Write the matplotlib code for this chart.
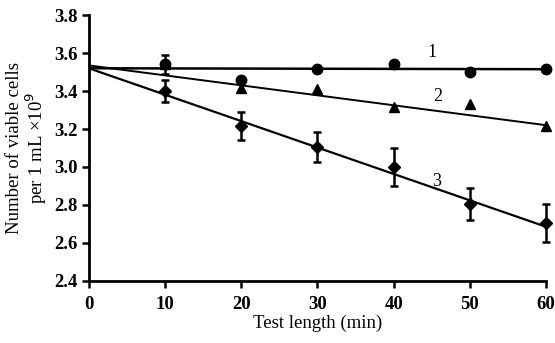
import matplotlib
matplotlib.use("Agg")
import matplotlib.pyplot as plt
import numpy as np

plt.rcParams['font.family'] = ['Liberation Serif', 'DejaVu Serif']

x = [10, 20, 30, 40, 50, 60]
s1 = [3.54, 3.46, 3.515, 3.545, 3.50, 3.515]
s1_err = [0.05, 0, 0, 0, 0, 0]
s2 = [3.54, 3.415, 3.41, 3.315, 3.33, 3.215]
s3 = [3.40, 3.215, 3.105, 3.00, 2.805, 2.705]
s3_err = [0.06, 0.075, 0.077, 0.10, 0.085, 0.10]

fit_x = [0, 60]
fit1 = [3.52, 3.515]
fit2 = [3.535, 3.22]
fit3 = [3.52, 2.685]

fig = plt.figure(figsize=(5.55, 3.43), dpi=100)
ax = fig.add_axes([0.160, 0.181, 0.824, 0.775])

ax.plot(fit_x, fit1, color='black', lw=1.8)
ax.plot(fit_x, fit2, color='black', lw=1.4)
ax.plot(fit_x, fit3, color='black', lw=1.6)

e3 = ax.errorbar(x, s3, yerr=s3_err, fmt='D', color='black', ms=6, capsize=3,
                 elinewidth=1.8, capthick=1.8)
ax.plot(x, s2, '^', color='black', ms=7.5, clip_on=False)
e1 = ax.errorbar(x, s1, yerr=s1_err, fmt='o', color='black', ms=7.5, capsize=3,
                 elinewidth=1.8, capthick=1.8)
for e in (e3, e1):
    e.lines[0].set_clip_on(False)
    for art in e.lines[1]:
        art.set_clip_on(False)
    for art in e.lines[2]:
        art.set_clip_on(False)

ax.text(45, 3.605, '1', fontsize=13, ha='center', va='center')
ax.text(45.8, 3.37, '2', fontsize=13, ha='center', va='center')
ax.text(45.6, 2.925, '3', fontsize=13, ha='center', va='center')

ax.set_xlim(0, 60)
ax.set_ylim(2.4, 3.8)
ax.set_xticks([0, 10, 20, 30, 40, 50, 60])
yt = np.arange(2.4, 3.81, 0.2)
ax.set_yticks(yt)
ax.set_yticklabels([f"{v:.1f}" for v in yt])

for s in ['top', 'right']:
    ax.spines[s].set_visible(False)
for s in ['left', 'bottom']:
    ax.spines[s].set_linewidth(2)
ax.tick_params(width=1.8, length=5, labelsize=13.5, direction='out', pad=3)
ax.tick_params(axis='x', pad=6)
for lab in ax.get_xticklabels() + ax.get_yticklabels():
    lab.set_fontweight('bold')

ax.set_xlabel('Test length (min)', fontsize=13.5, labelpad=1)
ax.set_ylabel('Number of viable cells\nper 1 mL ×10$^9$', fontsize=13.5, labelpad=4,
              linespacing=1.0)

fig.savefig('out.png', dpi=100)
